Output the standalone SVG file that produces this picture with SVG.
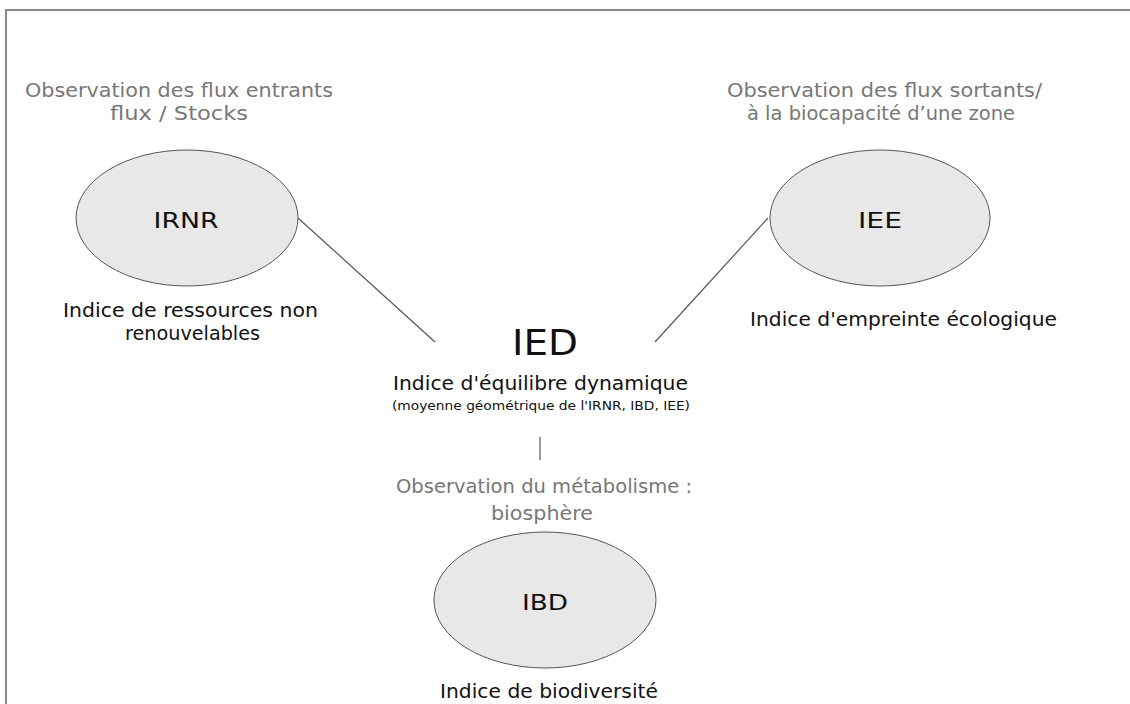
<svg xmlns="http://www.w3.org/2000/svg" width="1130" height="704" viewBox="0 0 1130 704">
<style>
text{font-family:"DejaVu Sans","Liberation Sans",sans-serif;text-anchor:middle}
.lbl{font-size:19px;fill:#111}
.hd{font-size:19px;fill:#777}
.nd{font-size:22px;fill:#111}
.node ellipse{fill:#e8e8e8;stroke:#555;stroke-width:1}
.conn line{stroke:#555;stroke-width:1.2}
</style>
<rect width="1130" height="704" fill="#fff"/>
<path d="M6 720 V10 H1130" fill="none" stroke="#888" stroke-width="2"/>
<g class="conn" id="connectors">
<line x1="298" y1="218" x2="435" y2="342"/>
<line x1="768" y1="218" x2="655" y2="342"/>
<line x1="540" y1="437" x2="540" y2="460"/>
</g>
<g id="irnr" class="node">
<text class="hd" x="179" y="97" textLength="308" lengthAdjust="spacingAndGlyphs">Observation des flux entrants</text>
<text class="hd" x="179" y="120" textLength="138" lengthAdjust="spacingAndGlyphs">flux / Stocks</text>
<ellipse cx="187" cy="218" rx="111" ry="68"/>
<text class="nd" x="186" y="228" textLength="65" lengthAdjust="spacingAndGlyphs">IRNR</text>
<text class="lbl" x="190.5" y="317" textLength="255" lengthAdjust="spacingAndGlyphs">Indice de ressources non</text>
<text class="lbl" x="192.5" y="340" textLength="135" lengthAdjust="spacingAndGlyphs">renouvelables</text>
</g>
<g id="iee" class="node">
<text class="hd" x="884.5" y="97" textLength="315" lengthAdjust="spacingAndGlyphs">Observation des flux sortants/</text>
<text class="hd" x="881" y="120" textLength="268" lengthAdjust="spacingAndGlyphs">à la biocapacité d’une zone</text>
<ellipse cx="880" cy="218" rx="110" ry="68"/>
<text class="nd" x="880" y="228" textLength="44" lengthAdjust="spacingAndGlyphs">IEE</text>
<text class="lbl" x="903.5" y="326" textLength="307" lengthAdjust="spacingAndGlyphs">Indice d'empreinte écologique</text>
</g>
<g id="ied">
<text x="545" y="355" style="font-size:36px;fill:#111" textLength="66" lengthAdjust="spacingAndGlyphs">IED</text>
<text class="lbl" x="540.5" y="390" textLength="295" lengthAdjust="spacingAndGlyphs">Indice d'équilibre dynamique</text>
<text x="541" y="410" style="font-size:13px;fill:#111" textLength="298" lengthAdjust="spacingAndGlyphs">(moyenne géométrique de l'IRNR, IBD, IEE)</text>
</g>
<g id="ibd" class="node">
<text class="hd" x="544" y="493" textLength="296" lengthAdjust="spacingAndGlyphs">Observation du métabolisme :</text>
<text class="hd" x="542" y="520" textLength="102" lengthAdjust="spacingAndGlyphs">biosphère</text>
<ellipse cx="545" cy="600" rx="111" ry="68"/>
<text class="nd" x="545" y="610" textLength="46" lengthAdjust="spacingAndGlyphs">IBD</text>
<text class="lbl" x="549" y="698" textLength="218" lengthAdjust="spacingAndGlyphs">Indice de biodiversité</text>
</g>
</svg>
